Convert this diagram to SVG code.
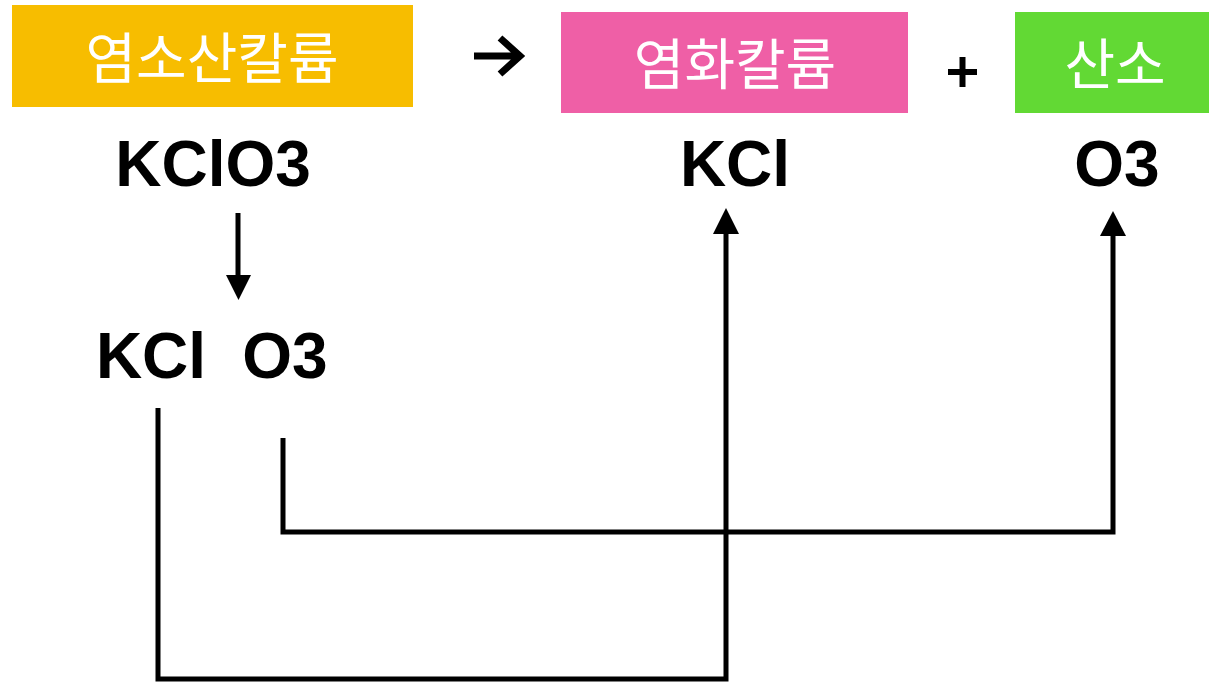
<svg xmlns="http://www.w3.org/2000/svg" width="1209" height="685" viewBox="0 0 1209 685">
<style>
.kr{font-family:"Noto Sans CJK KR","Noto Sans",sans-serif;font-size:55px;fill:#fff;text-anchor:middle;dominant-baseline:central}
.chem{font-family:"Liberation Sans",Arial,sans-serif;font-weight:bold;font-size:64px;fill:#000;text-anchor:middle}
.conn{fill:none;stroke:#000;stroke-width:5}
.head{fill:#000}
</style>
<rect width="1209" height="685" fill="#fff"/>
<g id="kclo3-box">
<rect x="12" y="5" width="401" height="102" fill="#f7bd00"/>
<text class="kr" x="212" y="54">염소산칼륨</text>
</g>
<g id="reaction-arrow">
<path d="M474,56 H518 M500,38 L520,56 L500,74" fill="none" stroke="#000" stroke-width="7"/>
</g>
<g id="kcl-box">
<rect x="561" y="12" width="347" height="101" fill="#ef5fa6"/>
<text class="kr" x="735" y="60">염화칼륨</text>
</g>
<g id="plus">
<path d="M948,72 H977 M962.5,57 V87" fill="none" stroke="#000" stroke-width="6"/>
</g>
<g id="o2-box">
<rect x="1015" y="12" width="194" height="101" fill="#62d934"/>
<text class="kr" x="1115" y="60">산소</text>
</g>
<g id="kclo3-formula"><text class="chem" x="213" y="186">KClO3</text></g>
<g id="kcl-formula"><text class="chem" x="735" y="186">KCl</text></g>
<g id="o3-formula"><text class="chem" x="1117" y="186">O3</text></g>
<g id="split-kcl"><text class="chem" x="151" y="378">KCl</text></g>
<g id="split-o3"><text class="chem" x="285" y="378">O3</text></g>
<g id="connectors">
<path class="conn" d="M238,213 V277"/>
<path class="head" d="M226,275 H251 L238.5,300 Z"/>
<path class="conn" d="M158,408 V679 H726 V234"/>
<path class="head" d="M713,234 H739 L726,208 Z"/>
<path class="conn" d="M283,438 V532 H1113 V236"/>
<path class="head" d="M1100,236 H1126 L1113,211 Z"/>
</g>
</svg>
